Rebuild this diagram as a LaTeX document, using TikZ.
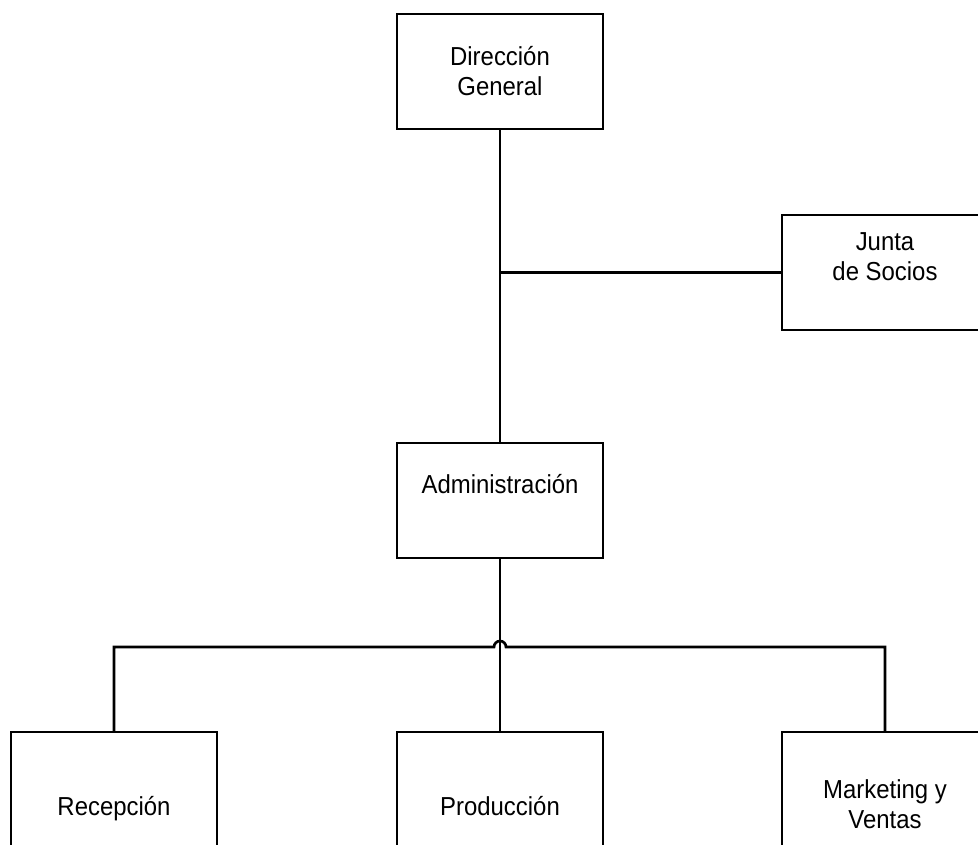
\documentclass[tikz,border=0pt]{standalone}
\usepackage{fontspec}
\setmainfont[FakeStretch=0.92]{Liberation Sans}
\begin{document}
\begin{tikzpicture}[x=0.75pt,y=-0.75pt,
  orgbox/.style={draw,line width=2pt,outer sep=0pt,minimum width=154.5pt,minimum height=86.25pt,inner sep=0pt,anchor=north west},
  lbl/.style={align=center,font=\fontsize{19.5pt}{22.5pt}\selectfont,inner sep=0pt,anchor=base},
  conn/.style={line width=2pt}]
\useasboundingbox (0,0) rectangle (978,844);
\clip (0,0) rectangle (978,844);
\node[orgbox] (dg) at (397,14) {};
\node[orgbox] (junta) at (782,215) {};
\node[orgbox] (adm) at (397,443) {};
\node[orgbox] (rec) at (11,732) {};
\node[orgbox] (prod) at (397,732) {};
\node[orgbox] (mkt) at (782,732) {};
\node[lbl] (tdg) at (500,95) {Dirección\\General};
\node[lbl] (tjunta) at (885,280) {Junta\\de Socios};
\node[lbl] (tadm) at (500,493) {Administración};
\node[lbl] (trec) at (114,815) {Recepción};
\node[lbl] (tprod) at (500,815) {Producción};
\node[lbl] (tmkt) at (885,828) {Marketing y\\Ventas};
\coordinate (bus) at (500,647);
\draw[conn] (dg.south) -- (adm.north);
\draw[conn] (junta.west) -- (junta.west -| dg.south);
\draw[conn] (adm.south) -- (prod.north);
\draw[conn] (rec.north) -- (rec.north |- bus) -- ([xshift=-4.5pt]bus) arc[start angle=180,end angle=0,radius=4.5pt] -- (mkt.north |- bus) -- (mkt.north);
\end{tikzpicture}
\end{document}
